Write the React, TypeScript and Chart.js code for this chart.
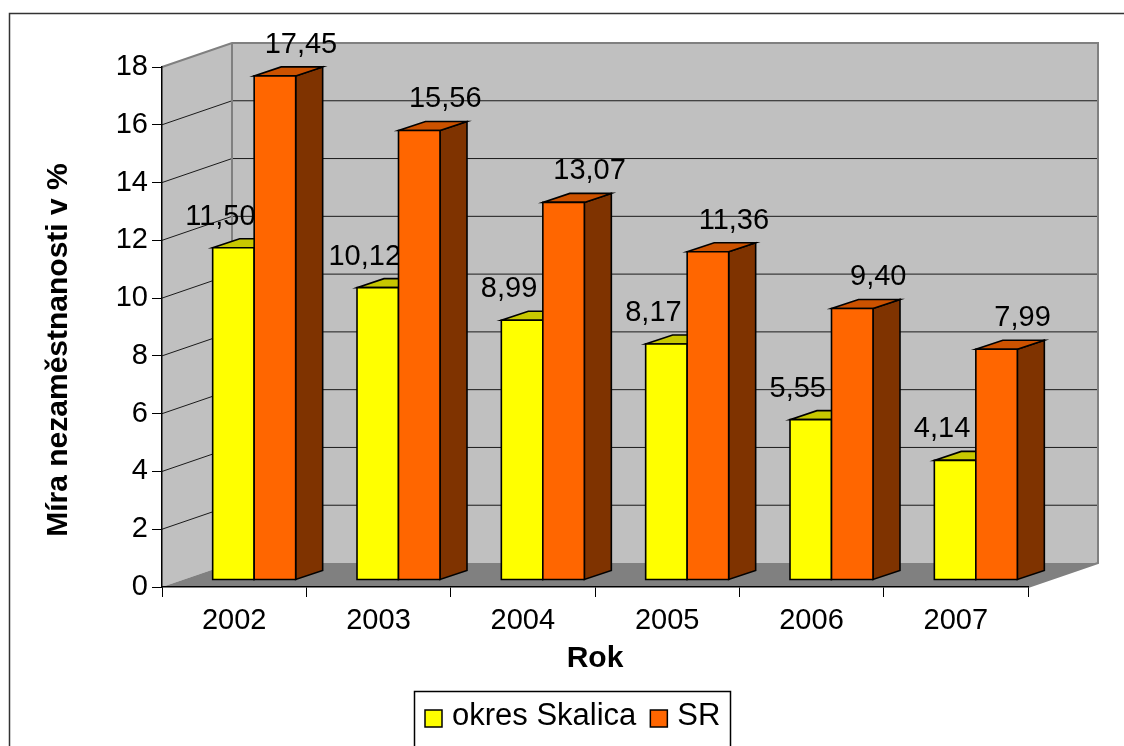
import React, { useEffect, useRef } from "react";
import { Chart, registerables } from "chart.js";

Chart.register(...registerables);

// ---- data ----
const categories = ["2002", "2003", "2004", "2005", "2006", "2007"];
const skalicaValues = [11.5, 10.12, 8.99, 8.17, 5.55, 4.14];
const srValues = [17.45, 15.56, 13.07, 11.36, 9.4, 7.99];
const seriesNames = ["okres Skalica", "SR"];
const yMin = 0;
const yMax = 18;
const yStep = 2;
const xTitle = "Rok";
const yTitle = "Míra nezaměstnanosti v %";

// ---- style ----
const FONT = "'Liberation Sans', Arial, Helvetica, sans-serif";
const frontColors = ["#ffff00", "#ff6600"];
const topColors = ["#c8c800", "#cc5200"];
const sideColors = ["#808000", "#7f3300"];
const WALL = "#c0c0c0";
const FLOOR = "#808080";
const EDGE = "#808080";
const DEPTH = { x: 70, y: -24 };
const BAR_SHIFT = { x: 20, y: -7 };
const BAR_DEPTH = { x: 27, y: -9 };
const LABEL_DX = [-13, 26];
const LABEL_DY = -23;

const fmt = (v: number) => v.toFixed(2).replace(".", ",");

const threeDPlugin = {
  id: "threeD",
  beforeDraw(chart: any) {
    const ctx = chart.ctx as CanvasRenderingContext2D;
    const { left, right } = chart.chartArea;
    const ys = chart.scales.y;
    const y0 = ys.getPixelForValue(yMin);
    const yT = ys.getPixelForValue(yMax);
    ctx.save();
    ctx.fillStyle = "#ffffff";
    ctx.fillRect(0, 0, chart.width, chart.height);
    // outer frame
    ctx.strokeStyle = "#333333";
    ctx.lineWidth = 1.5;
    ctx.strokeRect(9.5, 13.5, chart.width + 20, chart.height + 20);

    const poly = (pts: number[][], fill: string | null, stroke: string | null, lw = 1) => {
      ctx.beginPath();
      ctx.moveTo(pts[0][0], pts[0][1]);
      for (let k = 1; k < pts.length; k++) ctx.lineTo(pts[k][0], pts[k][1]);
      ctx.closePath();
      if (fill) {
        ctx.fillStyle = fill;
        ctx.fill();
      }
      if (stroke) {
        ctx.strokeStyle = stroke;
        ctx.lineWidth = lw;
        ctx.stroke();
      }
    };
    // left wall
    poly(
      [
        [left, yT],
        [left + DEPTH.x, yT + DEPTH.y],
        [left + DEPTH.x, y0 + DEPTH.y],
        [left, y0],
      ],
      WALL,
      null
    );
    // back wall
    poly(
      [
        [left + DEPTH.x, yT + DEPTH.y],
        [right + DEPTH.x, yT + DEPTH.y],
        [right + DEPTH.x, y0 + DEPTH.y],
        [left + DEPTH.x, y0 + DEPTH.y],
      ],
      WALL,
      null
    );
    // floor
    poly(
      [
        [left, y0],
        [left + DEPTH.x, y0 + DEPTH.y],
        [right + DEPTH.x, y0 + DEPTH.y],
        [right, y0],
      ],
      FLOOR,
      null
    );
    // gridlines
    ys.ticks.forEach((t: any) => {
      const v = t.value;
      if (v <= yMin || v >= yMax) return;
      const y = ys.getPixelForValue(v);
      ctx.beginPath();
      ctx.moveTo(left, y);
      ctx.lineTo(left + DEPTH.x, y + DEPTH.y);
      ctx.lineTo(right + DEPTH.x, y + DEPTH.y);
      ctx.strokeStyle = "#1a1a1a";
      ctx.lineWidth = 1;
      ctx.stroke();
    });
    // wall edges
    ctx.beginPath();
    ctx.moveTo(left, yT);
    ctx.lineTo(left + DEPTH.x, yT + DEPTH.y);
    ctx.lineTo(right + DEPTH.x, yT + DEPTH.y);
    ctx.lineTo(right + DEPTH.x, y0 + DEPTH.y);
    ctx.lineTo(right, y0);
    ctx.moveTo(left + DEPTH.x, yT + DEPTH.y);
    ctx.lineTo(left + DEPTH.x, y0 + DEPTH.y);
    ctx.strokeStyle = EDGE;
    ctx.lineWidth = 2;
    ctx.stroke();
    ctx.restore();
  },
  beforeDatasetsDraw(chart: any) {
    const ctx = chart.ctx as CanvasRenderingContext2D;
    ctx.save();
    ctx.lineJoin = "miter";
    const n = chart.data.labels.length;
    const poly = (pts: number[][], fill: string) => {
      ctx.beginPath();
      ctx.moveTo(pts[0][0], pts[0][1]);
      for (let k = 1; k < pts.length; k++) ctx.lineTo(pts[k][0], pts[k][1]);
      ctx.closePath();
      ctx.fillStyle = fill;
      ctx.fill();
      ctx.strokeStyle = "#000000";
      ctx.lineWidth = 1.6;
      ctx.stroke();
    };
    for (let i = 0; i < n; i++) {
      chart.data.datasets.forEach((ds: any, d: number) => {
        const meta = chart.getDatasetMeta(d);
        const el: any = meta.data[i];
        if (!el) return;
        const xl = el.x - el.width / 2 + BAR_SHIFT.x;
        const xr = el.x + el.width / 2 + BAR_SHIFT.x;
        const yt = el.y + BAR_SHIFT.y;
        const yb = el.base + BAR_SHIFT.y;
        // side
        poly(
          [
            [xr, yt],
            [xr + BAR_DEPTH.x, yt + BAR_DEPTH.y],
            [xr + BAR_DEPTH.x, yb + BAR_DEPTH.y],
            [xr, yb],
          ],
          sideColors[d]
        );
        // top
        poly(
          [
            [xl, yt],
            [xr, yt],
            [xr + BAR_DEPTH.x, yt + BAR_DEPTH.y],
            [xl + BAR_DEPTH.x, yt + BAR_DEPTH.y],
          ],
          topColors[d]
        );
        // front
        poly(
          [
            [xl, yt],
            [xr, yt],
            [xr, yb],
            [xl, yb],
          ],
          ds.backgroundColor
        );
        // value label
        ctx.fillStyle = "#000000";
        ctx.font = `29px ${FONT}`;
        ctx.textAlign = "center";
        ctx.textBaseline = "alphabetic";
        ctx.fillText(fmt(ds.data[i]), el.x + BAR_SHIFT.x + LABEL_DX[d], yt + LABEL_DY);
      });
    }
    ctx.restore();
    return false;
  },
  afterDraw(chart: any) {
    const ctx = chart.ctx as CanvasRenderingContext2D;
    const { left, right } = chart.chartArea;
    ctx.save();
    ctx.fillStyle = "#000000";
    // x title
    ctx.font = `bold 30px ${FONT}`;
    ctx.textAlign = "center";
    ctx.textBaseline = "alphabetic";
    ctx.fillText(xTitle, (left + right) / 2, 667);
    // y title
    ctx.save();
    ctx.translate(67, 350);
    ctx.rotate(-Math.PI / 2);
    ctx.font = `bold 30px ${FONT}`;
    ctx.textAlign = "center";
    ctx.fillText(yTitle, 0, 0);
    ctx.restore();
    // legend
    const bx = 414, by = 691, bw = 316, bh = 58;
    ctx.strokeStyle = "#000000";
    ctx.lineWidth = 1.5;
    ctx.strokeRect(bx + 0.5, by + 0.5, bw, bh);
    ctx.font = `31px ${FONT}`;
    ctx.textAlign = "left";
    let x = bx + 11;
    chart.data.datasets.forEach((ds: any) => {
      ctx.fillStyle = ds.backgroundColor;
      ctx.fillRect(x, 710, 17, 17);
      ctx.strokeStyle = "#000000";
      ctx.lineWidth = 1.5;
      ctx.strokeRect(x, 710, 17, 17);
      ctx.fillStyle = "#000000";
      ctx.fillText(ds.label, x + 27, 725);
      x += 27 + ctx.measureText(ds.label).width + 14;
    });
    ctx.restore();
  },
};

export default function App() {
  const ref = useRef<HTMLCanvasElement | null>(null);
  useEffect(() => {
    if (!ref.current) return;
    const chart = new Chart(ref.current, {
      type: "bar",
      data: {
        labels: categories,
        datasets: [
          {
            label: seriesNames[0],
            data: skalicaValues,
            backgroundColor: frontColors[0],
            borderColor: "#000",
            borderWidth: 1.5,
            categoryPercentage: 0.575,
            barPercentage: 1,
          },
          {
            label: seriesNames[1],
            data: srValues,
            backgroundColor: frontColors[1],
            borderColor: "#000",
            borderWidth: 1.5,
            categoryPercentage: 0.575,
            barPercentage: 1,
          },
        ],
      },
      options: {
        responsive: false,
        maintainAspectRatio: false,
        animation: false,
        events: [],
        layout: { padding: { top: 67, right: 96, bottom: 0, left: 0 } },
        plugins: {
          legend: { display: false },
          tooltip: { enabled: false },
          title: { display: false },
        },
        scales: {
          x: {
            type: "category",
            offset: true,
            ticks: { font: { family: FONT, size: 29 }, color: "#000", padding: 7, maxRotation: 0 },
            grid: { offset: true, drawOnChartArea: false, drawTicks: true, tickLength: 10, color: "#000" },
            border: { display: true, color: "#000", width: 1.5 },
            afterFit: (s: any) => {
              s.height = 159;
            },
          },
          y: {
            type: "linear",
            min: yMin,
            max: yMax,
            ticks: { stepSize: yStep, font: { family: FONT, size: 29 }, color: "#000", padding: 4 },
            grid: { drawOnChartArea: false, drawTicks: true, tickLength: 10, color: "#000" },
            border: { display: true, color: "#000", width: 1.5 },
            afterFit: (s: any) => {
              s.width = 162;
            },
          },
        },
      },
      plugins: [threeDPlugin],
    } as any);
    return () => chart.destroy();
  }, []);
  return (
    <canvas
      ref={ref}
      width={1124}
      height={746}
      style={{ position: "absolute", left: 0, top: 0, display: "block" }}
    />
  );
}
